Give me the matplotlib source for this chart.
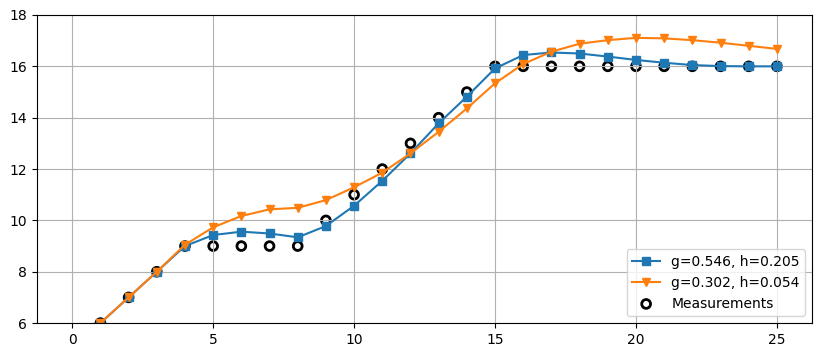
import matplotlib
matplotlib.use("Agg")
import matplotlib.pyplot as plt

days = list(range(1, 26))
measured = [6, 7, 8, 9, 9, 9, 9, 9, 10, 11, 12, 13, 14, 15, 16,
            16, 16, 16, 16, 16, 16, 16, 16, 16, 16]
fit_a = [6.0, 7.0, 8.0, 9.0, 9.43, 9.56, 9.49, 9.34, 9.78, 10.57,
         11.54, 12.61, 13.78, 14.82, 15.92, 16.44, 16.54, 16.5, 16.38, 16.25,
         16.14, 16.05, 16.01, 16.0, 16.0]
fit_b = [6.0, 7.0, 8.0, 9.05, 9.73, 10.17, 10.43, 10.49, 10.79, 11.29,
         11.86, 12.61, 13.45, 14.36, 15.34, 16.09, 16.57, 16.88, 17.02, 17.11,
         17.09, 17.02, 16.92, 16.8, 16.68]
label_a = "g=0.546, h=0.205"
label_b = "g=0.302, h=0.054"

fig, ax = plt.subplots(figsize=(8.22, 3.57), dpi=100)
fig.subplots_adjust(left=0.045, right=0.988, top=0.958, bottom=0.095)

ax.plot(days, fit_a, marker="s", color="#1f77b4", label=label_a)
ax.plot(days, fit_b, marker="v", color="#ff7f0e", label=label_b)
ax.scatter(days, measured, facecolors="none", edgecolors="black",
           linewidths=2, s=40, label="Measurements")

ax.set_xlim(-1.25, 26.25)
ax.set_ylim(6, 18)
ax.set_xticks([0, 5, 10, 15, 20, 25])
ax.grid(True)
ax.legend(loc="lower right")

plt.savefig("out.png")
plt.close()
